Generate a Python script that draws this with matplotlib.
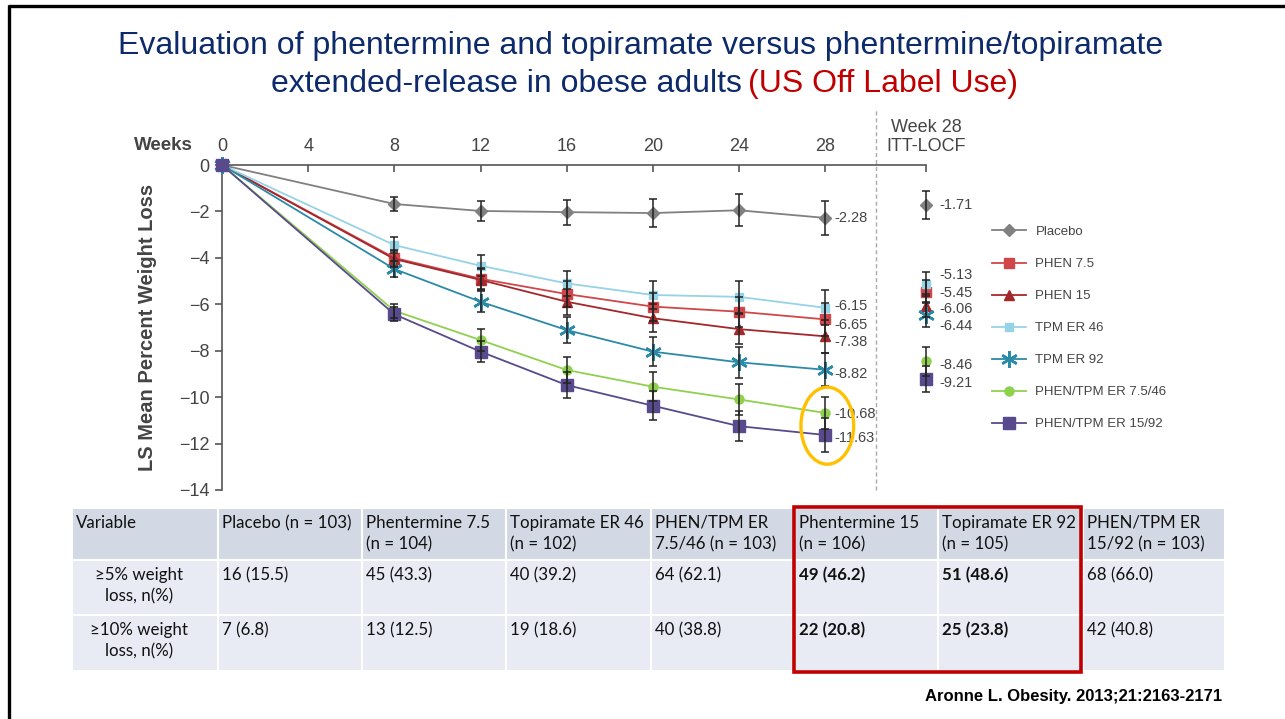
import matplotlib
matplotlib.use('Agg')
import matplotlib.pyplot as plt
from matplotlib.patches import Rectangle, Ellipse
import numpy as np

plt.rcParams['font.family'] = ['Liberation Sans', 'DejaVu Sans']

# ---- data ----
weeks = [0, 8, 12, 16, 20, 24, 28]
itt_label = 'Week 28\nITT-LOCF'

series = ['Placebo', 'PHEN 7.5', 'PHEN 15', 'TPM ER 46', 'TPM ER 92',
          'PHEN/TPM ER 7.5/46', 'PHEN/TPM ER 15/92']
placebo = [0, -1.68, -1.98, -2.03, -2.07, -1.95, -2.28]
phen75 = [0, -4.00, -4.90, -5.56, -6.10, -6.32, -6.65]
phen15 = [0, -4.05, -4.95, -5.89, -6.60, -7.07, -7.38]
tpm46 = [0, -3.45, -4.34, -5.10, -5.60, -5.68, -6.15]
tpm92 = [0, -4.48, -5.89, -7.11, -8.04, -8.50, -8.82]
combo746 = [0, -6.28, -7.54, -8.83, -9.55, -10.10, -10.68]
combo1592 = [0, -6.43, -8.04, -9.48, -10.37, -11.25, -11.63]

placebo_err = [0, 0.32, 0.43, 0.54, 0.60, 0.68, 0.73]
phen75_err = [0, 0.35, 0.45, 0.55, 0.60, 0.65, 0.70]
phen15_err = [0, 0.35, 0.45, 0.55, 0.60, 0.65, 0.70]
tpm46_err = [0, 0.35, 0.45, 0.55, 0.62, 0.68, 0.76]
tpm92_err = [0, 0.35, 0.45, 0.55, 0.62, 0.68, 0.72]
combo746_err = [0, 0.29, 0.46, 0.55, 0.62, 0.66, 0.68]
combo1592_err = [0, 0.30, 0.45, 0.55, 0.62, 0.66, 0.72]

itt_vals = [-1.71, -5.45, -6.06, -5.13, -6.44, -8.46, -9.21]
itt_err = [0.60, 0.50, 0.50, 0.50, 0.55, 0.62, 0.55]

table_header = ['Variable', 'Placebo (n = 103)', 'Phentermine 7.5\n(n = 104)',
                'Topiramate ER 46\n(n = 102)', 'PHEN/TPM ER\n7.5/46 (n = 103)',
                'Phentermine 15\n(n = 106)', 'Topiramate ER 92\n(n = 105)',
                'PHEN/TPM ER\n15/92 (n = 103)']
row5 = ['\u22655% weight\nloss, n(%)', '16 (15.5)', '45 (43.3)', '40 (39.2)',
        '64 (62.1)', '49 (46.2)', '51 (48.6)', '68 (66.0)']
row10 = ['\u226510% weight\nloss, n(%)', '7 (6.8)', '13 (12.5)', '19 (18.6)',
         '40 (38.8)', '22 (20.8)', '25 (23.8)', '42 (40.8)']

# ---- styles ----
vals = [placebo, phen75, phen15, tpm46, tpm92, combo746, combo1592]
errs = [placebo_err, phen75_err, phen15_err, tpm46_err, tpm92_err, combo746_err, combo1592_err]
colors = ['#808080', '#d0474a', '#a3272b', '#96d3e6', '#2b8aa6', '#8fd14f', '#584a8c']
markers = ['D', 's', '^', 's', (6, 2, 0), 'o', 's']
msizes = [6.5, 7, 7, 6, 12, 6.5, 9]
mew = [1, 1, 1, 1, 1.8, 1, 1]
# label offsets in pixels, positive = up (week 28 / ITT)
off28 = [0, -6, -6, 2, -4, -1, -3]
offitt = [0, -1, -3, 9, -12, -4, -4]

W, H = 1285, 719
fig = plt.figure(figsize=(W / 100, H / 100), dpi=100)

# overlay in pixel coordinates for frame, title, table
ov = fig.add_axes([0, 0, 1, 1])
ov.set_xlim(0, W)
ov.set_ylim(H, 0)
ov.axis('off')

ov.plot([9, 9], [5, H], color='black', lw=2.4, solid_capstyle='butt')
ov.plot([8, W], [6, 6], color='black', lw=2.4, solid_capstyle='butt')

navy = '#0d2b6b'
ov.text(641, 46, 'Evaluation of phentermine and topiramate versus phentermine/topiramate',
        ha='center', va='center', fontsize=23, color=navy)
ov.text(742, 84, 'extended-release in obese adults', ha='right', va='center', fontsize=23,
        color=navy)
ov.text(748, 84, '(US Off Label Use)', ha='left', va='center', fontsize=23,
        color='#c00000')

# table
col_x = [72, 218, 362, 506, 651, 795, 938, 1083, 1225]
row_y = [508, 560, 615, 671]
row_bg = ['#d3d9e4', '#e8ebf4', '#e8ebf4']
rows = [table_header, row5, row10]
for r, cells in enumerate(rows):
    for c, txt in enumerate(cells):
        x0, x1 = col_x[c], col_x[c + 1]
        y0, y1 = row_y[r], row_y[r + 1]
        ov.add_patch(Rectangle((x0, y0), x1 - x0, y1 - y0, facecolor=row_bg[r],
                               edgecolor='white', lw=1.5))
        bold = r > 0 and c in (5, 6)
        if c == 0 and r > 0:
            ov.text(139, y0 + 7, txt, ha='center', va='top', fontsize=12.2,
                    family='Lato', color='#111111', linespacing=1.4)
        else:
            ov.text(x0 + 4, y0 + 7, txt, ha='left', va='top', fontsize=12.2,
                    family='Lato', color='#111111', linespacing=1.4,
                    fontweight='bold' if bold else 'normal')
ov.add_patch(Rectangle((794, 507), 287, 165, fill=False, edgecolor='#c00000', lw=2.6))

ov.text(1222, 697, 'Aronne L. Obesity. 2013;21:2163-2171', ha='right', va='center',
        fontsize=12, fontweight='bold', color='black')

# ---- line chart ----
itt_x = 32.68
ax = fig.add_axes([222 / W, 1 - 490 / H, 704 / W, 325 / H])
ax.set_xlim(0, itt_x)
ax.set_ylim(-14, 0)
ax.spines['right'].set_visible(False)
ax.spines['bottom'].set_visible(False)
for s in ('top', 'left'):
    ax.spines[s].set_color('#555555')
    ax.spines[s].set_linewidth(1.2)
ax.xaxis.tick_top()
ax.set_xticks([0, 4, 8, 12, 16, 20, 24, 28, itt_x])
ax.set_xticklabels(['0', '4', '8', '12', '16', '20', '24', '28', itt_label])
ax.tick_params(axis='x', direction='in', length=5, width=1.2, color='#555555',
               labelsize=13, labelcolor='#444444', pad=7)
ax.set_yticks(np.arange(0, -15, -2))
ax.tick_params(axis='y', direction='out', length=5, width=1.2, color='#555555',
               labelsize=13, labelcolor='#444444', pad=4)
ax.set_ylabel('LS Mean Percent Weight Loss', fontsize=14.5, fontweight='bold', color='#444444',
              labelpad=16)
ax.text(-1.35, 0.82, 'Weeks', ha='right', va='center', fontsize=13.5,
        fontweight='bold', color='#444444')

for i, name in enumerate(series):
    ax.plot(weeks, vals[i], color=colors[i], lw=1.3, marker=markers[i], ms=msizes[i],
            mew=mew[i], mec=colors[i], label=name, clip_on=False, zorder=3)
    ax.errorbar(weeks[1:], vals[i][1:], yerr=errs[i][1:], fmt='none', ecolor='#222222',
                elinewidth=1.1, capsize=2.8, capthick=1.1, clip_on=False, zorder=4)
    ax.errorbar([itt_x], [itt_vals[i]], yerr=[itt_err[i]], fmt='none', ecolor='#222222',
                elinewidth=1.1, capsize=2.8, capthick=1.1, clip_on=False, zorder=4)
    ax.plot([itt_x], [itt_vals[i]], color=colors[i], marker=markers[i], ms=msizes[i],
            mew=mew[i], clip_on=False, zorder=3)
    ax.annotate('%.2f' % vals[i][-1], xy=(28, vals[i][-1]), xytext=(9, off28[i]),
                textcoords='offset pixels', ha='left', va='center', fontsize=10.5,
                color='#444444', annotation_clip=False, zorder=5)
    ax.annotate('%.2f' % itt_vals[i], xy=(itt_x, itt_vals[i]), xytext=(13, offitt[i]),
                textcoords='offset pixels', ha='left', va='center', fontsize=10.5,
                color='#444444', annotation_clip=False, zorder=5)

# dashed separator before ITT column
ax.vlines(30.36, -14, 2.4, colors='#aaaaaa', linestyles=(0, (3, 2)), lw=1, clip_on=False)

# highlight ellipse
ax.add_patch(Ellipse((28.1, -11.23), 2.45, 3.32, fill=False, edgecolor='#ffc000', lw=2.4,
                     clip_on=False, zorder=6))

leg = ax.legend(loc='upper left', bbox_to_anchor=(980 / W, 1 - 214 / H),
                bbox_transform=fig.transFigure, frameon=False, fontsize=9.5,
                labelspacing=1.5, handlelength=2.6, handletextpad=0.7, labelcolor='#444444')

fig.savefig('out.png', dpi=100)
